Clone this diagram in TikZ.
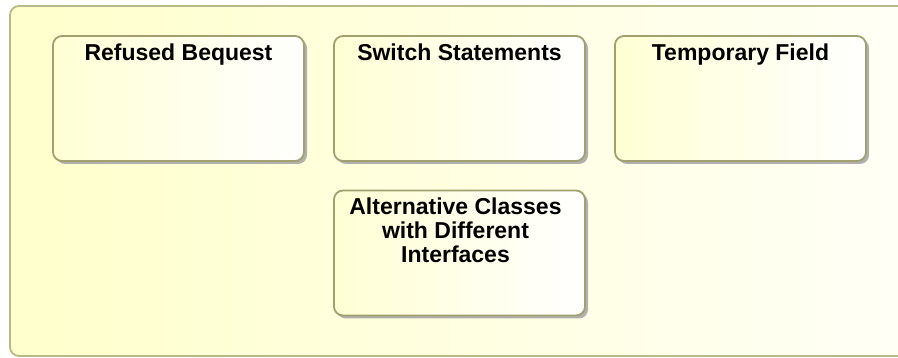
\documentclass[tikz,border=0pt]{standalone}
\usepackage{fontspec}
\setmainfont{Liberation Sans}
\usetikzlibrary{shadows}
\definecolor{frameline}{HTML}{B8B888}
\definecolor{boxline}{HTML}{A0A070}
\definecolor{yelA}{HTML}{FFFFCC}
\definecolor{yelB}{HTML}{FFFFF6}
\definecolor{shadowgray}{HTML}{A8A8A8}
\begin{document}
\begin{tikzpicture}[x=1pt,y=-1pt,
  frame/.style={draw=frameline, line width=1.8pt, rounded corners=9pt,
    left color=yelA, right color=yelB},
  smellbox/.style={draw=boxline, line width=1.8pt, rounded corners=9pt,
    minimum width=251pt, minimum height=125pt, inner sep=0pt,
    left color=yelA!85!white, right color=white,
    drop shadow={shadow xshift=3pt, shadow yshift=-3pt, fill=shadowgray, opacity=0.9}},
  smelltext/.style={anchor=north, inner sep=0pt, align=center,
    font=\fontsize{23pt}{24pt}\selectfont\bfseries}
]
\useasboundingbox (0,0) rectangle (898,358);
\draw[frame] (10,6) rectangle (912,356);

\node[smellbox] (rb) at (178.5,98.5) {};
\node[smellbox] (ss) at (459.5,98.5) {};
\node[smellbox] (tf) at (740.5,98.5) {};
\node[smellbox] (ac) at (459.5,253) {};

\node[smelltext] (rbt) at ([yshift=-9pt]rb.north) {Refused Bequest};
\node[smelltext] (sst) at ([yshift=-9pt]ss.north) {Switch Statements};
\node[smelltext] (tft) at ([yshift=-9pt]tf.north) {Temporary Field};
\node[smelltext] (act) at ([xshift=-4pt,yshift=-8pt]ac.north) {Alternative Classes\\with Different\\Interfaces};
\end{tikzpicture}
\end{document}
